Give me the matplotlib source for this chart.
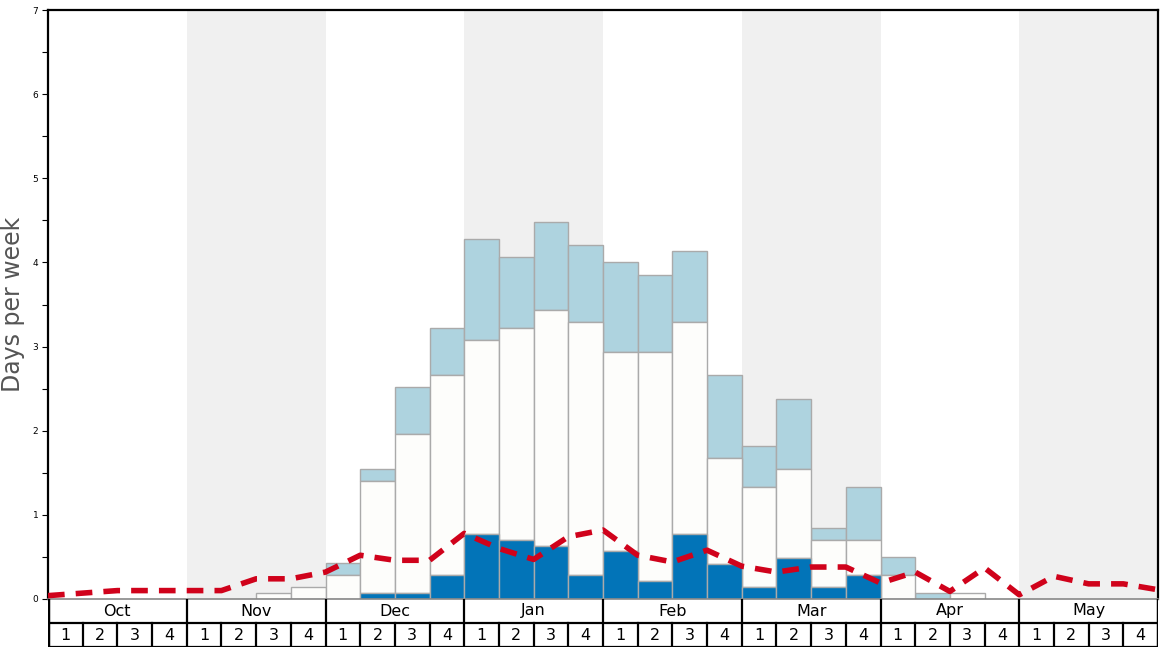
import matplotlib

matplotlib.use("Agg")

import matplotlib.pyplot as plt  # noqa: E402
import numpy as np  # noqa: E402

MONTHS = ["Oct", "Nov", "Dec", "Jan", "Feb", "Mar", "Apr", "May"]
WEEK_LABELS = ["1", "2", "3", "4"] * len(MONTHS)

# cumulative heights per week (dark bottom, white top, light-blue top)
dark_top = [0, 0, 0, 0, 0, 0, 0, 0,
            0, 0.07, 0.07, 0.29, 0.77, 0.70, 0.63, 0.29,
            0.57, 0.21, 0.77, 0.42, 0.14, 0.49, 0.14, 0.29,
            0, 0, 0, 0, 0, 0, 0, 0]
white_top = [0, 0, 0, 0, 0, 0, 0.07, 0.14,
             0.29, 1.40, 1.96, 2.66, 3.08, 3.22, 3.44, 3.29,
             2.94, 2.94, 3.29, 1.68, 1.33, 1.54, 0.70, 0.70,
             0.29, 0, 0.07, 0, 0, 0, 0, 0]
light_top = [0, 0, 0, 0, 0, 0, 0.07, 0.14,
             0.43, 1.54, 2.52, 3.22, 4.28, 4.07, 4.48, 4.21,
             4.00, 3.85, 4.14, 2.66, 1.82, 2.38, 0.84, 1.33,
             0.50, 0.07, 0.07, 0, 0, 0, 0, 0]
# dashed average line, one value per week boundary
avg_line = [0.04, 0.07, 0.10, 0.10, 0.10, 0.10, 0.24, 0.24,
            0.32, 0.52, 0.46, 0.46, 0.78, 0.60, 0.47, 0.74,
            0.82, 0.52, 0.44, 0.58, 0.39, 0.32, 0.38, 0.38,
            0.19, 0.32, 0.09, 0.37, 0.05, 0.27, 0.18, 0.18, 0.11]

DARK = "#0274b8"
LIGHT = "#aed3df"
WHITE = "#fdfdfb"
EDGE = "#aaaaaa"
SHADE = "#f0f0f0"

W, H = 1168, 648
fig = plt.figure(figsize=(W / 100, H / 100), dpi=100)
left, right = 48 / W, 1158 / W
ax = fig.add_axes([left, (H - 599) / H, right - left, (599 - 10) / H])
tab = fig.add_axes([left, (H - 647) / H, right - left, 48 / H])

n = len(dark_top)
x = np.arange(n) + 0.5

for i in range(1, len(MONTHS), 2):
    ax.axvspan(i * 4, i * 4 + 4, color=SHADE, lw=0, zorder=0)

bar_kw = dict(width=1.0, edgecolor=EDGE, linewidth=1.0, zorder=2)
light_h = np.array(light_top) - np.array(white_top)
white_h = np.array(white_top) - np.array(dark_top)
ax.bar(x, light_h, bottom=white_top, color=LIGHT, **bar_kw)
ax.bar(x, white_h, bottom=dark_top, color=WHITE, **bar_kw)
ax.bar(x, dark_top, color=DARK, **bar_kw)
# hide outlines of empty bars
for patch in ax.patches:
    if patch.get_height() <= 0:
        patch.set_visible(False)

ax.plot(np.arange(len(avg_line)), avg_line, color="#d0021b", lw=4,
        dashes=(3, 2), zorder=3, solid_capstyle="butt")

ax.set_xlim(0, n)
ax.set_ylim(0, 7)
ax.set_xticks([])
ax.set_yticks(range(8))
ax.set_yticks(np.arange(0.5, 7, 1), minor=True)
ax.tick_params(axis="y", which="both", length=4, width=0.8, labelsize=6.5, pad=3)
ax.set_ylabel("Days per week", fontsize=17, color="#555555")
ax.yaxis.set_label_coords(-0.021, 0.5)
for side in ("left", "top", "right"):
    ax.spines[side].set_linewidth(1.6)
    ax.spines[side].set_color("black")
ax.spines["bottom"].set_color("#888888")
ax.spines["bottom"].set_linewidth(1.2)

# month / week table below the plot
tab.set_xlim(0, n)
tab.set_ylim(0, 2)
tab.axis("off")
tab.plot([0, n], [1, 1], color="black", lw=1.6)
tab.plot([0, n], [0, 0], color="black", lw=1.6)
tab.plot([0, 0], [0, 2], color="black", lw=2.5)
tab.plot([n, n], [0, 2], color="black", lw=2.5)
for m, name in enumerate(MONTHS):
    tab.text(m * 4 + 2, 1.5, name, ha="center", va="center", fontsize=11.5)
    if m > 0:
        tab.plot([m * 4, m * 4], [0, 2], color="black", lw=1.6)
for w, lab in enumerate(WEEK_LABELS):
    tab.text(w + 0.5, 0.47, lab, ha="center", va="center", fontsize=11.5)
    if w % 4:
        tab.plot([w, w], [0, 1], color="black", lw=1.6)

fig.savefig("out.png", dpi=100)
